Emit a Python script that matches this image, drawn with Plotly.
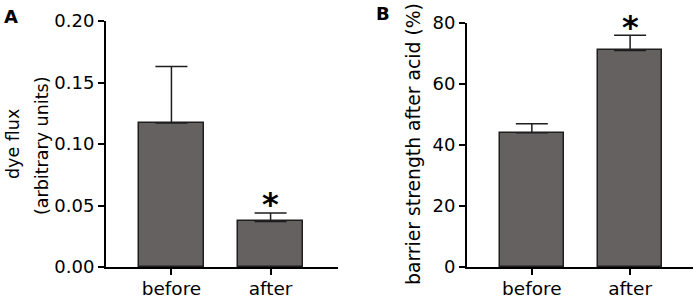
import plotly.graph_objects as go

categories = ["before", "after"]
flux_values = [0.117, 0.037]
flux_errors = [0.046, 0.007]
strength_values = [44, 71]
strength_errors = [3, 5]
flux_ticks = [0.00, 0.05, 0.10, 0.15, 0.20]
flux_ticklabels = ["0.00", "0.05", "0.10", "0.15", "0.20"]
strength_ticks = [0, 20, 40, 60, 80]

FONT = "DejaVu Sans"
FILL = "#656161"
DARK = "#1e1e1e"
TXT = "#000"

fig = go.Figure()

fig.add_trace(go.Bar(
    x=categories, y=flux_values, xaxis="x", yaxis="y", width=0.65,
    marker=dict(color=FILL, line=dict(color=DARK, width=1.5)),
    error_y=dict(type="data", array=flux_errors, arrayminus=[0, 0], symmetric=False,
                 width=16, thickness=1.5, color=DARK),
    showlegend=False,
))
fig.add_trace(go.Bar(
    x=categories, y=strength_values, xaxis="x2", yaxis="y2", width=0.65,
    marker=dict(color=FILL, line=dict(color=DARK, width=1.5)),
    error_y=dict(type="data", array=strength_errors, arrayminus=[0, 0], symmetric=False,
                 width=16, thickness=1.5, color=DARK),
    showlegend=False,
))

W, H = 699, 300
axis_common = dict(showline=True, linecolor="black", linewidth=2, showgrid=False,
                   zeroline=False, ticks="outside", tickcolor="black", tickwidth=2,
                   automargin=False)
xfont = dict(family=FONT, size=18.5, color=TXT)
yfont = dict(family=FONT, size=18, color=TXT)

fig.update_layout(
    width=W, height=H, margin=dict(l=0, r=0, t=0, b=0, pad=0, autoexpand=False),
    paper_bgcolor="white", plot_bgcolor="white",
    bargap=0,
    xaxis=dict(domain=[106 / W, 338 / W], anchor="y", type="category",
               range=[-0.66, 1.68], ticklen=6, tickfont=xfont,
               ticklabelstandoff=-2, **axis_common),
    yaxis=dict(domain=[33 / H, 279 / H], anchor="x", range=[0, 0.2],
               tickvals=flux_ticks, ticktext=flux_ticklabels, ticklen=6,
               tickfont=yfont, **axis_common),
    xaxis2=dict(domain=[467 / W, 693 / W], anchor="y2", type="category",
                range=[-0.66, 1.64], ticklen=6, tickfont=xfont,
                ticklabelstandoff=-2, **axis_common),
    yaxis2=dict(domain=[33 / H, 277 / H], anchor="x2", range=[0, 80],
                tickvals=strength_ticks, ticklen=6, tickfont=yfont, **axis_common),
)

annotations = [
    dict(text="<b>A</b>", x=2 / W, y=1 - 4 / H, xref="paper", yref="paper",
         xanchor="left", yanchor="top", showarrow=False,
         font=dict(family=FONT, size=18, color=TXT)),
    dict(text="<b>B</b>", x=374 / W, y=1 - 1 / H, xref="paper", yref="paper",
         xanchor="left", yanchor="top", showarrow=False,
         font=dict(family=FONT, size=18, color=TXT)),
    dict(text="dye flux", x=13 / W, y=1 - 144 / H, xref="paper", yref="paper",
         textangle=-90, showarrow=False, xanchor="center", yanchor="middle",
         font=dict(family=FONT, size=17.5, color=TXT)),
    dict(text="(arbitrary units)", x=42 / W, y=1 - 146 / H, xref="paper", yref="paper",
         textangle=-90, showarrow=False, xanchor="center", yanchor="middle",
         font=dict(family=FONT, size=17.5, color=TXT)),
    dict(text="barrier strength after acid (%)", x=413 / W, y=1 - 144 / H,
         xref="paper", yref="paper", textangle=-90, showarrow=False,
         xanchor="center", yanchor="middle",
         font=dict(family=FONT, size=18.8, color=TXT)),
    dict(text="<b>*</b>", x=categories[1], y=flux_values[1] + flux_errors[1], xref="x", yref="y",
         showarrow=False, yanchor="bottom", yshift=-12,
         font=dict(family=FONT, size=32, color=TXT)),
    dict(text="<b>*</b>", x=categories[1], y=strength_values[1] + strength_errors[1], xref="x2", yref="y2",
         showarrow=False, yanchor="bottom", yshift=-13,
         font=dict(family=FONT, size=32, color=TXT)),
]
fig.update_layout(annotations=annotations)

fig.write_html("out.html", config={"displayModeBar": False},
               post_script="document.body.style.margin='0';")
